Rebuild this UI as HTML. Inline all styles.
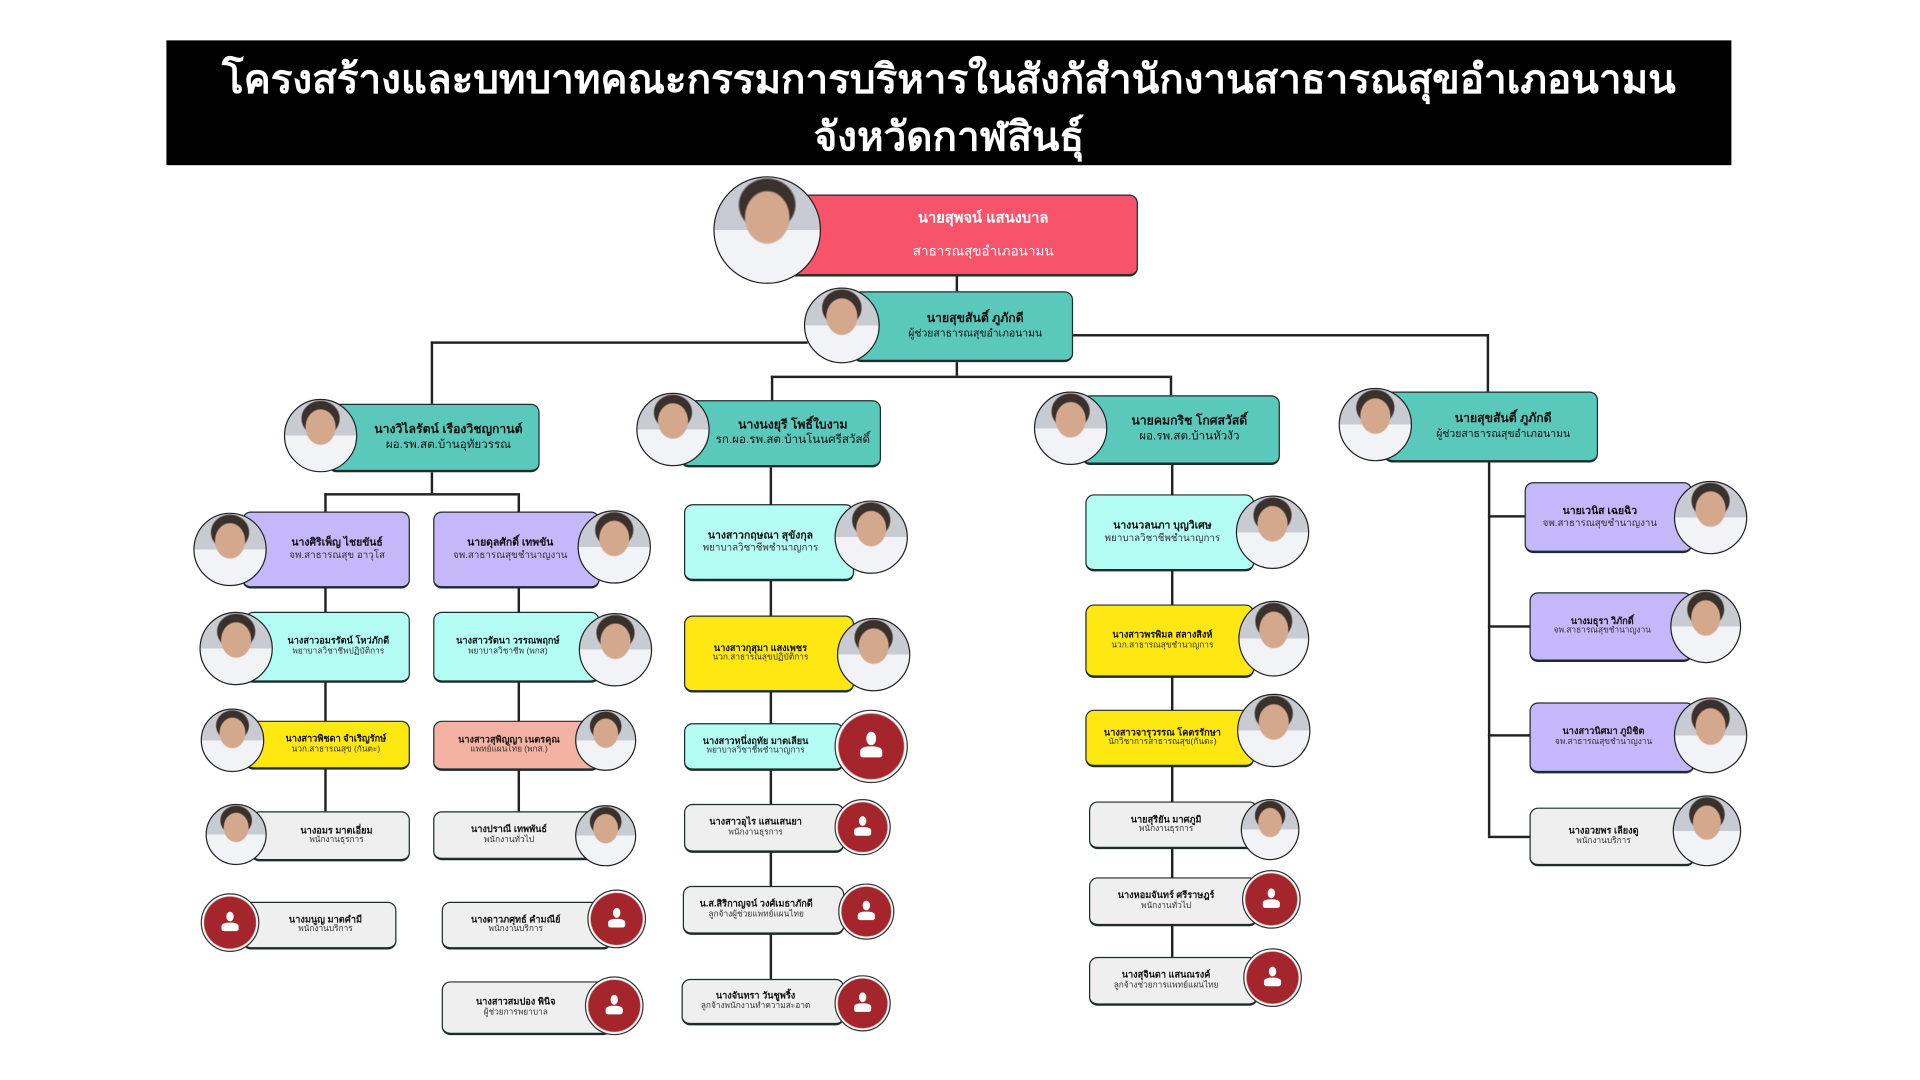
<!DOCTYPE html>
<html><head><meta charset="utf-8">
<style>
html,body{margin:0;padding:0;background:#fff;width:1920px;height:1080px;overflow:hidden}
#w{position:absolute;left:0;top:0;width:1552px;height:873px;transform:scale(1.2236);transform-origin:0 0;font-family:"Liberation Sans","DejaVu Sans",sans-serif}
.t{position:absolute;left:136px;top:33px;width:1279px;height:102px;background:#000;color:#fff;text-align:center;font-weight:bold;font-size:33px;line-height:47px;white-space:nowrap}
.b{position:absolute;border:1.5px solid #1d2b2b;border-bottom-width:2.5px;border-radius:7px;box-sizing:border-box;display:flex;flex-direction:column;justify-content:center;align-items:center;text-align:center;line-height:1.3;color:#111;white-space:nowrap}
.b b{font-size:7.5px}.b span{font-size:6.8px;color:#333}
.L b{font-size:10px}.L span{font-size:9.5px;color:#111}
.c{position:absolute;border-radius:50%;border:1.5px solid #222;box-sizing:border-box;
background:radial-gradient(ellipse 22% 26% at 50% 38%,#d4a88c 0 92%,transparent 100%),radial-gradient(ellipse 28% 26% at 50% 26%,#3a302c 0 92%,transparent 100%),linear-gradient(180deg,#c8ccd2 0 50%,#f2f3f7 50%)}
.r{position:absolute;border-radius:50%;border:1.5px solid #333;box-sizing:border-box;background:radial-gradient(circle,#a4262c 0 64%,#fff 67%)}
.r:before{content:"";position:absolute;left:43%;top:30%;width:14%;height:18%;border-radius:50%;background:#fff}
.r:after{content:"";position:absolute;left:35%;top:50%;width:30%;height:16%;border-radius:40% 40% 2px 2px;background:#fff}
.l{position:absolute;background:#222}
.pk{background:#f7536a}.tl{background:#5bc8bc}.lv{background:#c4b8fb}.cy{background:#b4fdf5}.yl{background:#ffe812}.sa{background:#f4b3a2}.gr{background:#efefef}
</style></head><body><div id="w">
<div class="t"><div style="margin-top:8px">โครงสร้างและบทบาทคณะกรรมการบริหารในสังกัสำนักงานสาธารณสุขอำเภอนามน</div><div>จังหวัดกาฬสินธุ์</div></div>

<div class="l" style="left:781px;top:226px;width:1.5px;height:12px"></div>
<div class="l" style="left:352px;top:279px;width:308px;height:1.5px"></div>
<div class="l" style="left:352px;top:279px;width:1.5px;height:51px"></div>
<div class="l" style="left:877px;top:273px;width:339px;height:1.5px"></div>
<div class="l" style="left:1215px;top:273px;width:1.5px;height:47px"></div>
<div class="l" style="left:781px;top:296px;width:1.5px;height:11px"></div>
<div class="l" style="left:630px;top:307px;width:326px;height:1.5px"></div>
<div class="l" style="left:630px;top:307px;width:1.5px;height:20px"></div>
<div class="l" style="left:956px;top:307px;width:1.5px;height:16px"></div>
<div class="l" style="left:352px;top:386px;width:1.5px;height:17px"></div>
<div class="l" style="left:265px;top:403px;width:158px;height:1.5px"></div>
<div class="l" style="left:265px;top:403px;width:1.5px;height:260px"></div>
<div class="l" style="left:423px;top:403px;width:1.5px;height:260px"></div>
<div class="l" style="left:629px;top:382px;width:1.5px;height:418px"></div>
<div class="l" style="left:957px;top:380px;width:1.5px;height:402px"></div>
<div class="l" style="left:1216px;top:378px;width:1.5px;height:305px"></div>
<div class="l" style="left:1216px;top:421px;width:30px;height:1.5px"></div>
<div class="l" style="left:1216px;top:511px;width:34px;height:1.5px"></div>
<div class="l" style="left:1216px;top:600px;width:34px;height:1.5px"></div>
<div class="l" style="left:1216px;top:683px;width:34px;height:1.5px"></div>

<div class="b L pk" style="left:627px;top:159px;width:303px;height:67px;padding-left:50px;color:#fff"><b style="font-size:12px;color:#fff">นายสุพจน์ แสนงบาล</b><span style="font-size:11px;color:#fff;margin-top:12px">สาธารณสุขอำเภอนามน</span></div>
<div class="c" style="left:583px;top:144px;width:88px;height:88px"></div>
<div class="b L tl" style="left:697px;top:238px;width:180px;height:58px;padding-left:20px"><b>นายสุขสันติ์ ภูภักดี</b><span style="font-size:8.5px">ผู้ช่วยสาธารณสุขอำเภอนามน</span></div>
<div class="c" style="left:657px;top:235px;width:62px;height:62px"></div>

<div class="b L tl" style="left:268px;top:330px;width:173px;height:56px;padding-left:24px"><b>นางวิไลรัตน์ เรืองวิชญกานต์</b><span>ผอ.รพ.สต.บ้านอุทัยวรรณ</span></div>
<div class="c" style="left:232px;top:326px;width:60px;height:60px"></div>
<div class="b L tl" style="left:556px;top:327px;width:164px;height:55px;padding-left:20px"><b>นางนงยุรี โพธิ์ใบงาม</b><span>รก.ผอ.รพ.สต.บ้านโนนศรีสวัสดิ์</span></div>
<div class="c" style="left:520px;top:321px;width:60px;height:60px"></div>
<div class="b L tl" style="left:884px;top:323px;width:162px;height:57px;padding-left:14px"><b>นายคมกริช โกศสวัสดิ์</b><span>ผอ.รพ.สต.บ้านหัวงัว</span></div>
<div class="c" style="left:845px;top:320px;width:60px;height:60px"></div>
<div class="b L tl" style="left:1131px;top:320px;width:175px;height:58px;padding-left:20px"><b>นายสุขสันติ์ ภูภักดี</b><span style="font-size:8.5px">ผู้ช่วยสาธารณสุขอำเภอนามน</span></div>
<div class="c" style="left:1094px;top:317px;width:60px;height:60px"></div>

<div class="b lv" style="left:198px;top:418px;width:137px;height:63px;padding-left:18px"><b style="font-size:8.5px">นางศิริเพ็ญ ไชยขันธ์</b><span style="font-size:8px">จพ.สาธารณสุข อาวุโส</span></div>
<div class="c" style="left:158px;top:419px;width:60px;height:60px"></div>
<div class="b cy" style="left:200px;top:500px;width:135px;height:58px;padding-left:18px"><b>นางสาวอมรรัตน์ โหว่ภักดี</b><span>พยาบาลวิชาชีพปฏิบัติการ</span></div>
<div class="c" style="left:163px;top:500px;width:60px;height:60px"></div>
<div class="b yl" style="left:200px;top:589px;width:135px;height:40px;padding-left:14px"><b>นางสาวพิชดา จำเริญรักษ์</b><span>นวก.สาธารณสุข (กันตะ)</span></div>
<div class="c" style="left:164px;top:579px;width:52px;height:52px"></div>
<div class="b gr" style="left:205px;top:663px;width:130px;height:41px;padding-left:10px"><b>นางอมร มาตเอี่ยม</b><span>พนักงานธุรการ</span></div>
<div class="c" style="left:168px;top:657px;width:50px;height:50px"></div>
<div class="b gr" style="left:198px;top:737px;width:126px;height:39px;padding-left:10px"><b>นางมนูญ มาตคำมี</b><span>พนักงานบริการ</span></div>
<div class="r" style="left:164px;top:730px;width:48px;height:48px"></div>

<div class="b lv" style="left:354px;top:418px;width:136px;height:63px;padding-right:10px"><b style="font-size:8.5px">นายดุลศักดิ์ เทพขัน</b><span style="font-size:8px">จพ.สาธารณสุขชำนาญงาน</span></div>
<div class="c" style="left:472px;top:417px;width:60px;height:60px"></div>
<div class="b cy" style="left:354px;top:500px;width:136px;height:58px;padding-right:14px"><b>นางสาวรัตนา วรรณพฤกษ์</b><span>พยาบาลวิชาชีพ (พกส)</span></div>
<div class="c" style="left:473px;top:501px;width:60px;height:60px"></div>
<div class="b sa" style="left:354px;top:589px;width:136px;height:41px;padding-right:12px"><b>นางสาวสุพิญญา เนตรคุณ</b><span>แพทย์แผนไทย (พกส.)</span></div>
<div class="c" style="left:470px;top:580px;width:50px;height:50px"></div>
<div class="b gr" style="left:354px;top:663px;width:136px;height:40px;padding-right:12px"><b>นางปราณี เทพพันธ์</b><span>พนักงานทั่วไป</span></div>
<div class="c" style="left:470px;top:658px;width:50px;height:50px"></div>
<div class="b gr" style="left:361px;top:737px;width:139px;height:39px;padding-right:18px"><b>นางดาวภศุทธ์ คำมณีย์</b><span>พนักงานบริการ</span></div>
<div class="r" style="left:480px;top:727px;width:48px;height:48px"></div>
<div class="b gr" style="left:361px;top:802px;width:139px;height:44px;padding-right:18px"><b>นางสาวสมปอง พินิจ</b><span>ผู้ช่วยการพยาบาล</span></div>
<div class="r" style="left:478px;top:798px;width:48px;height:48px"></div>

<div class="b cy" style="left:559px;top:412px;width:139px;height:63px;padding-right:14px"><b style="font-size:8.5px">นางสาวกฤษณา สุขังกุล</b><span style="font-size:8px">พยาบาลวิชาชีพชำนาญการ</span></div>
<div class="c" style="left:682px;top:409px;width:60px;height:60px"></div>
<div class="b yl" style="left:559px;top:503px;width:139px;height:63px;padding-right:14px"><b>นางสาวกุสุมา แสงเพชร</b><span>นวก.สาธารณสุขปฏิบัติการ</span></div>
<div class="c" style="left:684px;top:505px;width:60px;height:60px"></div>
<div class="b cy" style="left:559px;top:591px;width:131px;height:39px;padding-right:14px"><b>นางสาวหนึ่งฤทัย มาตเลียน</b><span>พยาบาลวิชาชีพชำนาญการ</span></div>
<div class="r" style="left:682px;top:580px;width:60px;height:60px"></div>
<div class="b gr" style="left:559px;top:657px;width:131px;height:40px;padding-right:14px"><b>นางสาวอุไร แสนเสนยา</b><span>พนักงานธุรการ</span></div>
<div class="r" style="left:682px;top:653px;width:46px;height:46px"></div>
<div class="b gr" style="left:558px;top:724px;width:132px;height:40px;padding-right:12px"><b>น.ส.สิริกาญจน์ วงศ์เมธาภักดี</b><span>ลูกจ้างผู้ช่วยแพทย์แผนไทย</span></div>
<div class="r" style="left:685px;top:722px;width:46px;height:46px"></div>
<div class="b gr" style="left:557px;top:800px;width:133px;height:38px;padding-right:12px"><b>นางจันทรา วันชูพริ้ง</b><span>ลูกจ้างพนักงานทำความสะอาด</span></div>
<div class="r" style="left:682px;top:797px;width:46px;height:46px"></div>

<div class="b cy" style="left:887px;top:404px;width:138px;height:63px;padding-right:12px"><b style="font-size:8.5px">นางนวลนภา บุญวิเศษ</b><span style="font-size:8px">พยาบาลวิชาชีพชำนาญการ</span></div>
<div class="c" style="left:1010px;top:405px;width:60px;height:60px"></div>
<div class="b yl" style="left:887px;top:494px;width:138px;height:60px;padding-right:12px"><b>นางสาวพรพิมล สลางสิงห์</b><span>นวก.สาธารณสุขชำนาญการ</span></div>
<div class="c" style="left:1012px;top:491px;width:58px;height:62px"></div>
<div class="b yl" style="left:887px;top:580px;width:138px;height:47px;padding-right:12px"><b>นางสาวจารุวรรณ โคตรรักษา</b><span>นักวิชาการสาธารณสุข(กันตะ)</span></div>
<div class="c" style="left:1011px;top:567px;width:60px;height:60px"></div>
<div class="b gr" style="left:890px;top:655px;width:138px;height:39px;padding-right:12px"><b>นายสุริยัน มาศภูมิ</b><span>พนักงานธุรการ</span></div>
<div class="c" style="left:1014px;top:653px;width:48px;height:50px"></div>
<div class="b gr" style="left:890px;top:717px;width:138px;height:40px;padding-right:12px"><b>นางหอมจันทร์ ศรีราษฎร์</b><span>พนักงานทั่วไป</span></div>
<div class="r" style="left:1015px;top:711px;width:48px;height:48px"></div>
<div class="b gr" style="left:890px;top:782px;width:138px;height:40px;padding-right:12px"><b>นางสุจินดา แสนณรงค์</b><span>ลูกจ้างช่วยการแพทย์แผนไทย</span></div>
<div class="r" style="left:1016px;top:775px;width:48px;height:48px"></div>

<div class="b lv" style="left:1246px;top:394px;width:137px;height:58px;padding-right:14px"><b style="font-size:8.5px">นายเวนิส เฉยฉิว</b><span style="font-size:8px">จพ.สาธารณสุขชำนาญงาน</span></div>
<div class="c" style="left:1368px;top:393px;width:60px;height:60px"></div>
<div class="b lv" style="left:1250px;top:484px;width:133px;height:57px;padding-right:14px"><b>นางมธุรา วิภักดิ์</b><span>จพ.สาธารณสุขชำนาญงาน</span></div>
<div class="c" style="left:1365px;top:482px;width:58px;height:60px"></div>
<div class="b lv" style="left:1250px;top:574px;width:135px;height:58px;padding-right:14px"><b>นางสาวนิศมา ภูมิชิต</b><span>จพ.สาธารณสุขชำนาญงาน</span></div>
<div class="c" style="left:1368px;top:570px;width:60px;height:62px"></div>
<div class="b gr" style="left:1250px;top:660px;width:135px;height:48px;padding-right:14px"><b>นางอวยพร เลียงดู</b><span>พนักงานบริการ</span></div>
<div class="c" style="left:1367px;top:650px;width:56px;height:58px"></div>
</div></body></html>
